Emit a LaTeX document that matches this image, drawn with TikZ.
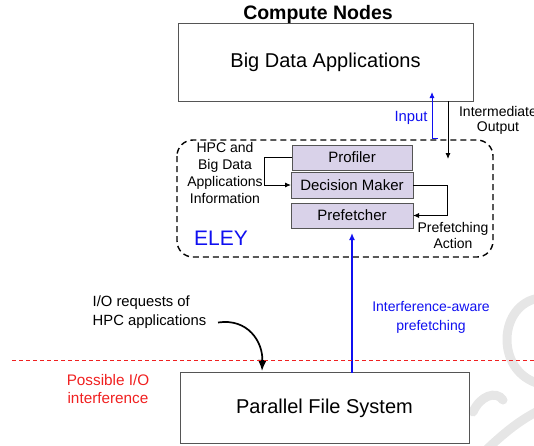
\documentclass[tikz,border=0pt]{standalone}
\usepackage{fontspec}
\setmainfont{Liberation Sans}
\usetikzlibrary{arrows.meta}
\definecolor{boxgray}{HTML}{555555}
\definecolor{lav}{HTML}{D9D2E9}
\definecolor{eblue}{HTML}{1010F0}
\definecolor{ered}{HTML}{F02020}
\definecolor{wm}{HTML}{E6E6E6}
\begin{document}
\begin{tikzpicture}[x=1pt,y=-1pt,
  bigbox/.style={draw=boxgray,line width=0.8pt,inner sep=0pt,outer sep=0pt,font=\fontsize{20}{23}\selectfont},
  modbox/.style={draw=boxgray,fill=lav,line width=0.8pt,inner sep=0pt,outer sep=0pt,font=\fontsize{15}{18}\selectfont},
  small/.style={inner sep=0pt,align=center,font=\fontsize{14}{17}\selectfont},
  arr/.style={line width=0.9pt,-{Latex[length=6pt,width=5pt]}},
  wmark/.style={wm,line width=9pt,line cap=round}]
\useasboundingbox (0,0) rectangle (534,445);
% faint background marks
\draw[wmark] (540,298) .. controls (498,303) and (494,372) .. (540,384);
\draw[wmark] (473,412) .. controls (480,396) and (496,390) .. (503,400);
\draw[wmark] (484,452) .. controls (505,432) and (520,420) .. (540,410);
% main boxes
\node[bigbox,minimum width=295pt,minimum height=78pt] (big) at (325.5,62) {Big Data Applications};
\node[font=\fontsize{19.5}{22}\selectfont\bfseries,inner sep=0pt] (cn) at (318,14) {Compute Nodes};
\node[bigbox,minimum width=289pt,minimum height=71pt] (pfs) at (324.5,408) {Parallel File System};
% ELEY container
\draw[line width=1.4pt,dash pattern=on 6pt off 4pt,rounded corners=16pt] (177,140) rectangle (493,257);
\node[font=\fontsize{21}{24}\selectfont,text=eblue,inner sep=0pt] (eley) at (221,238) {ELEY};
% modules
\node[modbox,minimum width=120pt,minimum height=25pt] (prof) at (352,157.5) {Profiler};
\node[modbox,minimum width=122pt,minimum height=26pt] (dm) at (352,185) {Decision Maker};
\node[modbox,minimum width=122pt,minimum height=25pt] (pref) at (352,215.5) {Prefetcher};
% labels
\node[small,font=\fontsize{14}{16.7}\selectfont] (hpc) at (225,173) {HPC and\\Big Data\\Applications\\Information};
\node[small,font=\fontsize{14}{16}\selectfont] (pa) at (453,235) {Prefetching\\Action};
\node[small,font=\fontsize{14}{15}\selectfont] (io) at (498,120.5) {Intermediate\\Output};
\node[small,text=eblue,font=\fontsize{14.8}{17}\selectfont] (inp) at (411,118) {Input};
\node[small,text=eblue,font=\fontsize{14}{19}\selectfont] (iap) at (431,317.5) {Interference-aware\\prefetching};
\node[small,align=left,anchor=west,font=\fontsize{14.8}{18.5}\selectfont] (ioreq) at (92.5,312) {I/O requests of\\HPC applications};
\node[small,text=ered,font=\fontsize{15.3}{18}\selectfont] (pii) at (108,389) {Possible I/O\\interference};
% connectors
\coordinate (inB) at (438,138);
\coordinate (inT) at (432,92);
\draw[arr,eblue] (inB) -- (inT |- inB) -- (inT);
\coordinate (ioT) at (big.south -| 448,0);
\coordinate (ioB) at (448,159);
\draw[arr] (ioT) -- (ioB);
\draw[arr] (prof.west) -- ++(-28,0) |- (dm.west);
\draw[arr] (dm.east) -- ++(34,0) |- (pref.east);
\coordinate (pfT) at (pfs.north -| pref.south);
\draw[eblue,line width=1.3pt,-{Latex[length=7pt,width=6pt]}] (pfT) -- ([yshift=-5pt]pref.south);
\coordinate (rqS) at (218,322.5);
\coordinate (rqE) at (262,371);
\draw[line width=1.7pt,-{Latex[length=11pt,width=9pt]}] (rqS) .. controls (248,318) and (263,342) .. (rqE);
% interference line
\coordinate (dl) at (12,360);
\coordinate (dr) at (534,360);
\draw[ered,line width=0.9pt,dash pattern=on 4pt off 3pt] (dl) -- (dr);
\end{tikzpicture}
\end{document}
